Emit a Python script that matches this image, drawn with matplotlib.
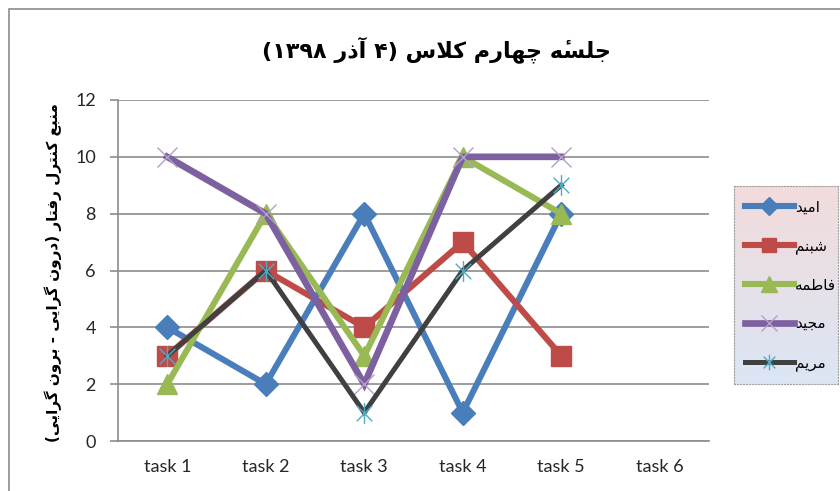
import re
import numpy as np
import matplotlib
matplotlib.use('Agg')
import matplotlib.pyplot as plt
from matplotlib.path import Path
from matplotlib.patches import Rectangle

# chart data
tasks = ['task 1', 'task 2', 'task 3', 'task 4', 'task 5', 'task 6']
names = ['امید', 'شبنم', 'فاطمه', 'مجید', 'مریم']
omid = [4, 2, 8, 1, 8]
shabnam = [3, 6, 4, 7, 3]
fatemeh = [2, 8, 3, 10, 8]
majid = [10, 8, 2, 10, 10]
maryam = [3, 6, 1, 6, 9]
title_text = 'جلسهٔ چهارم کلاس (۴ آذر ۱۳۹۸)'
ylabel_text = 'منبع کنترل رفتار (درون گرایی - برون گرایی)'
yticks = [0, 2, 4, 6, 8, 10, 12]

# matplotlib does no arabic shaping, so join the letters by hand
FORMS = {
    'ا': ('\uFE8D', '\uFE8E', None, None),
    'آ': ('\uFE81', '\uFE82', None, None),
    'ب': ('\uFE8F', '\uFE90', '\uFE91', '\uFE92'),
    'ت': ('\uFE95', '\uFE96', '\uFE97', '\uFE98'),
    'ج': ('\uFE9D', '\uFE9E', '\uFE9F', '\uFEA0'),
    'چ': ('\uFB7A', '\uFB7B', '\uFB7C', '\uFB7D'),
    'د': ('\uFEA9', '\uFEAA', None, None),
    'ذ': ('\uFEAB', '\uFEAC', None, None),
    'ر': ('\uFEAD', '\uFEAE', None, None),
    'س': ('\uFEB1', '\uFEB2', '\uFEB3', '\uFEB4'),
    'ش': ('\uFEB5', '\uFEB6', '\uFEB7', '\uFEB8'),
    'ط': ('\uFEC1', '\uFEC2', '\uFEC3', '\uFEC4'),
    'ع': ('\uFEC9', '\uFECA', '\uFECB', '\uFECC'),
    'ف': ('\uFED1', '\uFED2', '\uFED3', '\uFED4'),
    'ک': ('\uFB8E', '\uFB8F', '\uFB90', '\uFB91'),
    'گ': ('\uFB92', '\uFB93', '\uFB94', '\uFB95'),
    'ل': ('\uFEDD', '\uFEDE', '\uFEDF', '\uFEE0'),
    'م': ('\uFEE1', '\uFEE2', '\uFEE3', '\uFEE4'),
    'ن': ('\uFEE5', '\uFEE6', '\uFEE7', '\uFEE8'),
    'ه': ('\uFEE9', '\uFEEA', '\uFEEB', '\uFEEC'),
    'و': ('\uFEED', '\uFEEE', None, None),
    'ی': ('\uFBFC', '\uFBFD', '\uFBFE', '\uFBFF'),
}
LAM_ALEF = {'ا': ('\uFEFB', '\uFEFC'), 'آ': ('\uFEF5', '\uFEF6')}
MARKS = '\u0654'


def shape(text):
    # returns a list of glyph clusters (letter + marks) in logical order
    out = []
    i = 0
    while i < len(text):
        c = text[i]
        if c in MARKS and out:
            out[-1] += c
            i += 1
            continue
        prev = text[i - 1] if i > 0 else ''
        prev_joins = prev in FORMS and FORMS[prev][2] is not None
        nxt = text[i + 1] if i + 1 < len(text) else ''
        if c not in FORMS:
            out.append(c)
            i += 1
            continue
        if c == 'ل' and nxt in LAM_ALEF:
            out.append(LAM_ALEF[nxt][1 if prev_joins else 0])
            i += 2
            continue
        iso, fin, ini, med = FORMS[c]
        next_joins = nxt in FORMS
        if ini is None:
            out.append(fin if prev_joins else iso)
        elif prev_joins and next_joins:
            out.append(med)
        elif prev_joins:
            out.append(fin)
        elif next_joins:
            out.append(ini)
        else:
            out.append(iso)
        i += 1
    return out


def rtl(text):
    s = ''.join(shape(text)[::-1])
    s = s.translate(str.maketrans('()', ')('))
    # numbers stay left to right
    return re.sub(r'[\u06F0-\u06F90-9]+', lambda m: m.group()[::-1], s)


plt.rcParams['font.family'] = ['Lato', 'DejaVu Sans']

fig = plt.figure(figsize=(8.4, 4.91), dpi=100)
W, H = 840, 491

# outer chart frame
fig.patches.append(Rectangle((9 / W, -0.1), 1.2, 1 - 9 / H + 0.1, transform=fig.transFigure,
                             fill=False, edgecolor='#8c8c8c', linewidth=1.2))

ax = fig.add_axes([118 / W, 1 - 441 / H, (709 - 118) / W, (441 - 100) / H])

# star marker like excel's
star = Path([(0, -1), (0, 1), (-0.75, -0.75), (0.75, 0.75), (-0.75, 0.75), (0.75, -0.75)],
            [Path.MOVETO, Path.LINETO, Path.MOVETO, Path.LINETO, Path.MOVETO, Path.LINETO])

series = [omid, shabnam, fatemeh, majid, maryam]
styles = [
    dict(color='#4a7ebb', lw=4.4, marker='D', ms=12, mfc='#4a7ebb', mec='#4a7ebb'),
    dict(color='#be4b48', lw=4.4, marker='s', ms=14, mfc='#be4b48', mec='#be4b48'),
    dict(color='#98b954', lw=4.4, marker='^', ms=15, mfc='#98b954', mec='#98b954'),
    dict(color='#7d60a0', lw=4.8, marker='x', ms=15, mec='#b3a2c7', mew=1.0),
    dict(color='#404040', lw=3.6, marker=star, ms=15, mec='#4bacc6', mew=1.0),
]
x = np.arange(len(tasks))
for vals, name, st in zip(series, names, styles):
    ax.plot(x[:len(vals)], vals, label=rtl(name), solid_joinstyle='miter', **st)

ax.set_xlim(-0.5, len(tasks) - 0.5)
ax.set_ylim(0, 12)
ax.set_yticks(yticks)
ax.set_xticks(x)
ax.set_xticklabels(tasks, fontsize=13, color='#262626')
ax.tick_params(axis='x', length=0, pad=13)
ax.tick_params(axis='y', length=6, width=1.2, color='#8c8c8c', pad=10, labelsize=13, labelcolor='#262626')
ax.grid(axis='y', color='#8c8c8c', lw=1.2)
ax.set_axisbelow(True)
for sp in ['top', 'right']:
    ax.spines[sp].set_visible(False)
for sp in ['left', 'bottom']:
    ax.spines[sp].set_color('#8c8c8c')
    ax.spines[sp].set_linewidth(1.2)

fig.text(436 / W, 1 - 50 / H, rtl(title_text), ha='center', va='center',
         fontsize=16, fontweight='bold', family='DejaVu Sans')
fig.text(53 / W, 1 - 273 / H, rtl(ylabel_text), ha='center', va='center', rotation=90,
         fontsize=11, fontweight='bold', family='DejaVu Sans')

# legend with gradient background
lax = fig.add_axes([734 / W, 1 - 384 / H, (838 - 734) / W, (384 - 186) / H])
grad = np.linspace(0, 1, 100)[:, None]
top = np.array([0.95, 0.86, 0.86])
bot = np.array([0.86, 0.90, 0.96])
img = top[None, None, :] * (1 - grad[:, :, None]) + bot[None, None, :] * grad[:, :, None]
lax.imshow(img, aspect='auto', extent=[0, 1, 0, 1])
lax.set_xticks([])
lax.set_yticks([])
for sp in lax.spines.values():
    sp.set_edgecolor('#a0a0a0')
    sp.set_linestyle(':')
handles, labels = ax.get_legend_handles_labels()
lax.legend(handles, labels, loc='center left', bbox_to_anchor=(0.0, 0.5), frameon=False,
           prop={'family': 'DejaVu Sans', 'size': 11}, labelspacing=1.55,
           handlelength=3.2, handletextpad=0.1, borderpad=0.2, markerscale=0.75)

fig.savefig('out.png', dpi=100)
